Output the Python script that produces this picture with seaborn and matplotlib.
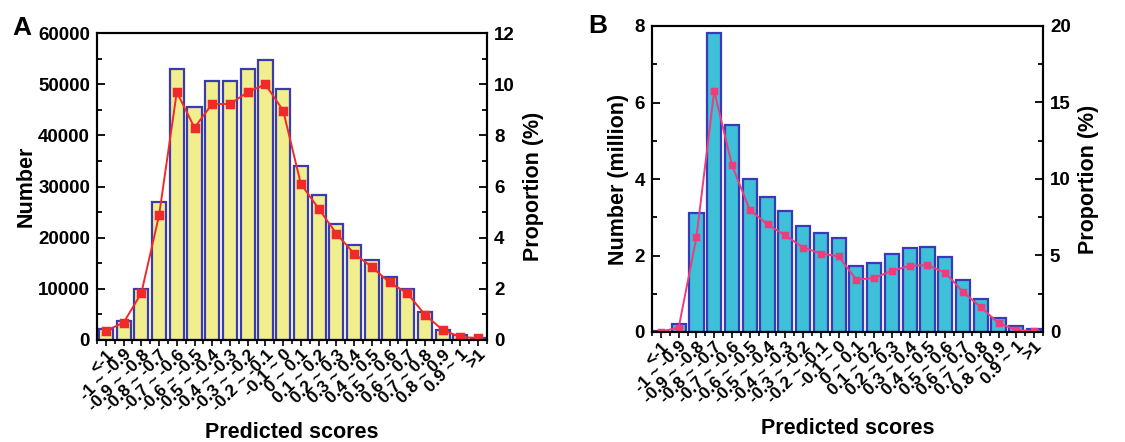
import matplotlib
matplotlib.use("Agg")
import matplotlib.pyplot as plt
import seaborn as sns
import pandas as pd
from matplotlib.ticker import MultipleLocator, FixedLocator

categories = ["<-1", "-1 ~ -0.9", "-0.9 ~ -0.8", "-0.8 ~ -0.7", "-0.7 ~ -0.6",
              "-0.6 ~ -0.5", "-0.5 ~ -0.4", "-0.4 ~ -0.3", "-0.3 ~ -0.2",
              "-0.2 ~ -0.1", "-0.1 ~ 0", "0 ~ 0.1", "0.1 ~ 0.2", "0.2 ~ 0.3",
              "0.3 ~ 0.4", "0.4 ~ 0.5", "0.5 ~ 0.6", "0.6 ~ 0.7", "0.7 ~ 0.8",
              "0.8 ~ 0.9", "0.9 ~ 1", ">1"]

count_a = [2100, 3700, 10050, 26900, 53000, 45500, 50700, 50600, 53000, 54800,
           49150, 34000, 28400, 22700, 18600, 15700, 12300, 10050, 5500, 2000,
           900, 400]
prop_a = [0.36, 0.68, 1.83, 4.87, 9.69, 8.30, 9.23, 9.22, 9.69, 9.99, 8.97,
          6.10, 5.14, 4.16, 3.38, 2.86, 2.25, 1.83, 0.99, 0.39, 0.12, 0.07]

count_b = [0.03, 0.20, 3.12, 7.81, 5.42, 3.99, 3.53, 3.16, 2.78, 2.59, 2.47,
           1.73, 1.80, 2.05, 2.19, 2.21, 1.96, 1.35, 0.86, 0.36, 0.16, 0.09]
prop_b = [0.03, 0.28, 6.19, 15.76, 10.9, 7.99, 7.03, 6.32, 5.52, 5.13, 4.94,
          3.42, 3.53, 4.00, 4.33, 4.37, 3.88, 2.62, 1.62, 0.58, 0.13, 0.05]

sns.set_theme(style="white")
plt.rcParams["font.family"] = ["Liberation Sans", "DejaVu Sans"]
plt.rcParams["font.weight"] = "bold"
for k in ["text.color", "axes.labelcolor", "xtick.color", "ytick.color",
          "axes.edgecolor"]:
    plt.rcParams[k] = "black"

fig = plt.figure(figsize=(11.25, 4.42), dpi=100)
W, H = 1125, 442


def make_ax(l, r, t, b):
    return fig.add_axes([l / W, 1 - b / H, (r - l) / W, (b - t) / H])


def panel(ax, counts, props, fill, edge, lcolor, ylim, ymaj, ymin,
          rlim, rmaj, rmin, ylabel, msize, rpad, xpad, lpad):
    df = pd.DataFrame({"cat": categories, "count": counts, "prop": props})
    sns.barplot(data=df, x="cat", y="count", order=categories, ax=ax,
                color=fill, saturation=1, edgecolor=edge, linewidth=1.6,
                width=0.8)
    ax.set_xlim(-0.55, len(categories) - 0.45)
    ax.set_ylim(*ylim)
    ax.yaxis.set_major_locator(MultipleLocator(ymaj))
    ax.yaxis.set_minor_locator(MultipleLocator(ymin))
    ax.tick_params(axis="y", which="both", direction="in", left=True,
                   labelsize=13.5, width=1.3)
    ax.tick_params(axis="y", which="major", length=6, pad=5)
    ax.tick_params(axis="y", which="minor", length=3.5)
    ax.xaxis.set_minor_locator(FixedLocator([i + 0.5 for i in range(-1, len(categories))]))
    ax.tick_params(axis="x", which="both", direction="out", bottom=True,
                   width=1.2)
    ax.tick_params(axis="x", which="major", length=4, pad=1)
    ax.tick_params(axis="x", which="minor", length=3)
    ax.set_xticks(range(len(categories)))
    ax.set_xticklabels(categories, rotation=45, ha="right",
                       rotation_mode="anchor", fontsize=12.5,
                       fontweight="bold")
    for lab in ax.get_yticklabels():
        lab.set_fontweight("bold")
    ax.set_xlabel("Predicted scores", fontsize=15.5, fontweight="bold",
                  labelpad=xpad)
    ax.set_ylabel(ylabel, fontsize=15.5, fontweight="bold", labelpad=lpad)
    for s in ax.spines.values():
        s.set_visible(True)
        s.set_color("black")
        s.set_linewidth(1.5)

    ax2 = ax.twinx()
    sns.pointplot(data=df, x="cat", y="prop", order=categories, ax=ax2,
                  color=lcolor, markers="s", linestyles="-",
                  markersize=msize, linewidth=1.4)
    ax2.set_xlim(ax.get_xlim())
    ax2.set_ylim(*rlim)
    ax2.yaxis.set_major_locator(MultipleLocator(rmaj))
    ax2.yaxis.set_minor_locator(MultipleLocator(rmin))
    ax2.tick_params(axis="y", which="both", direction="in", right=True,
                    labelsize=13.5, width=1.3)
    ax2.tick_params(axis="y", which="major", length=6, pad=5)
    ax2.tick_params(axis="y", which="minor", length=3.5)
    for lab in ax2.get_yticklabels():
        lab.set_fontweight("bold")
    ax2.set_ylabel("Proportion (%)", fontsize=15.5, fontweight="bold",
                   labelpad=rpad)
    ax2.set_xlabel("")
    for s in ax2.spines.values():
        s.set_linewidth(1.5)
    return ax, ax2


axA = make_ax(97, 487, 33, 340)
panel(axA, count_a, prop_a, "#f1ee8e", "#3b3bb0", "#f02a2a",
      (0, 60000), 10000, 5000, (0, 12), 2, 1, "Number", 6, 6, 6, 1)

axB = make_ax(652, 1043, 26, 332)
panel(axB, count_b, prop_b, "#3dc0d8", "#3a3ab8", "#f03c7c",
      (0, 8), 2, 1, (0, 20), 5, 2.5, "Number (million)", 5, 5, 9, 4)

fig.text(12 / W, 1 - 35 / H, "A", fontsize=19, fontweight="bold")
fig.text(588 / W, 1 - 33 / H, "B", fontsize=19, fontweight="bold")

fig.savefig("out.png", dpi=100)
